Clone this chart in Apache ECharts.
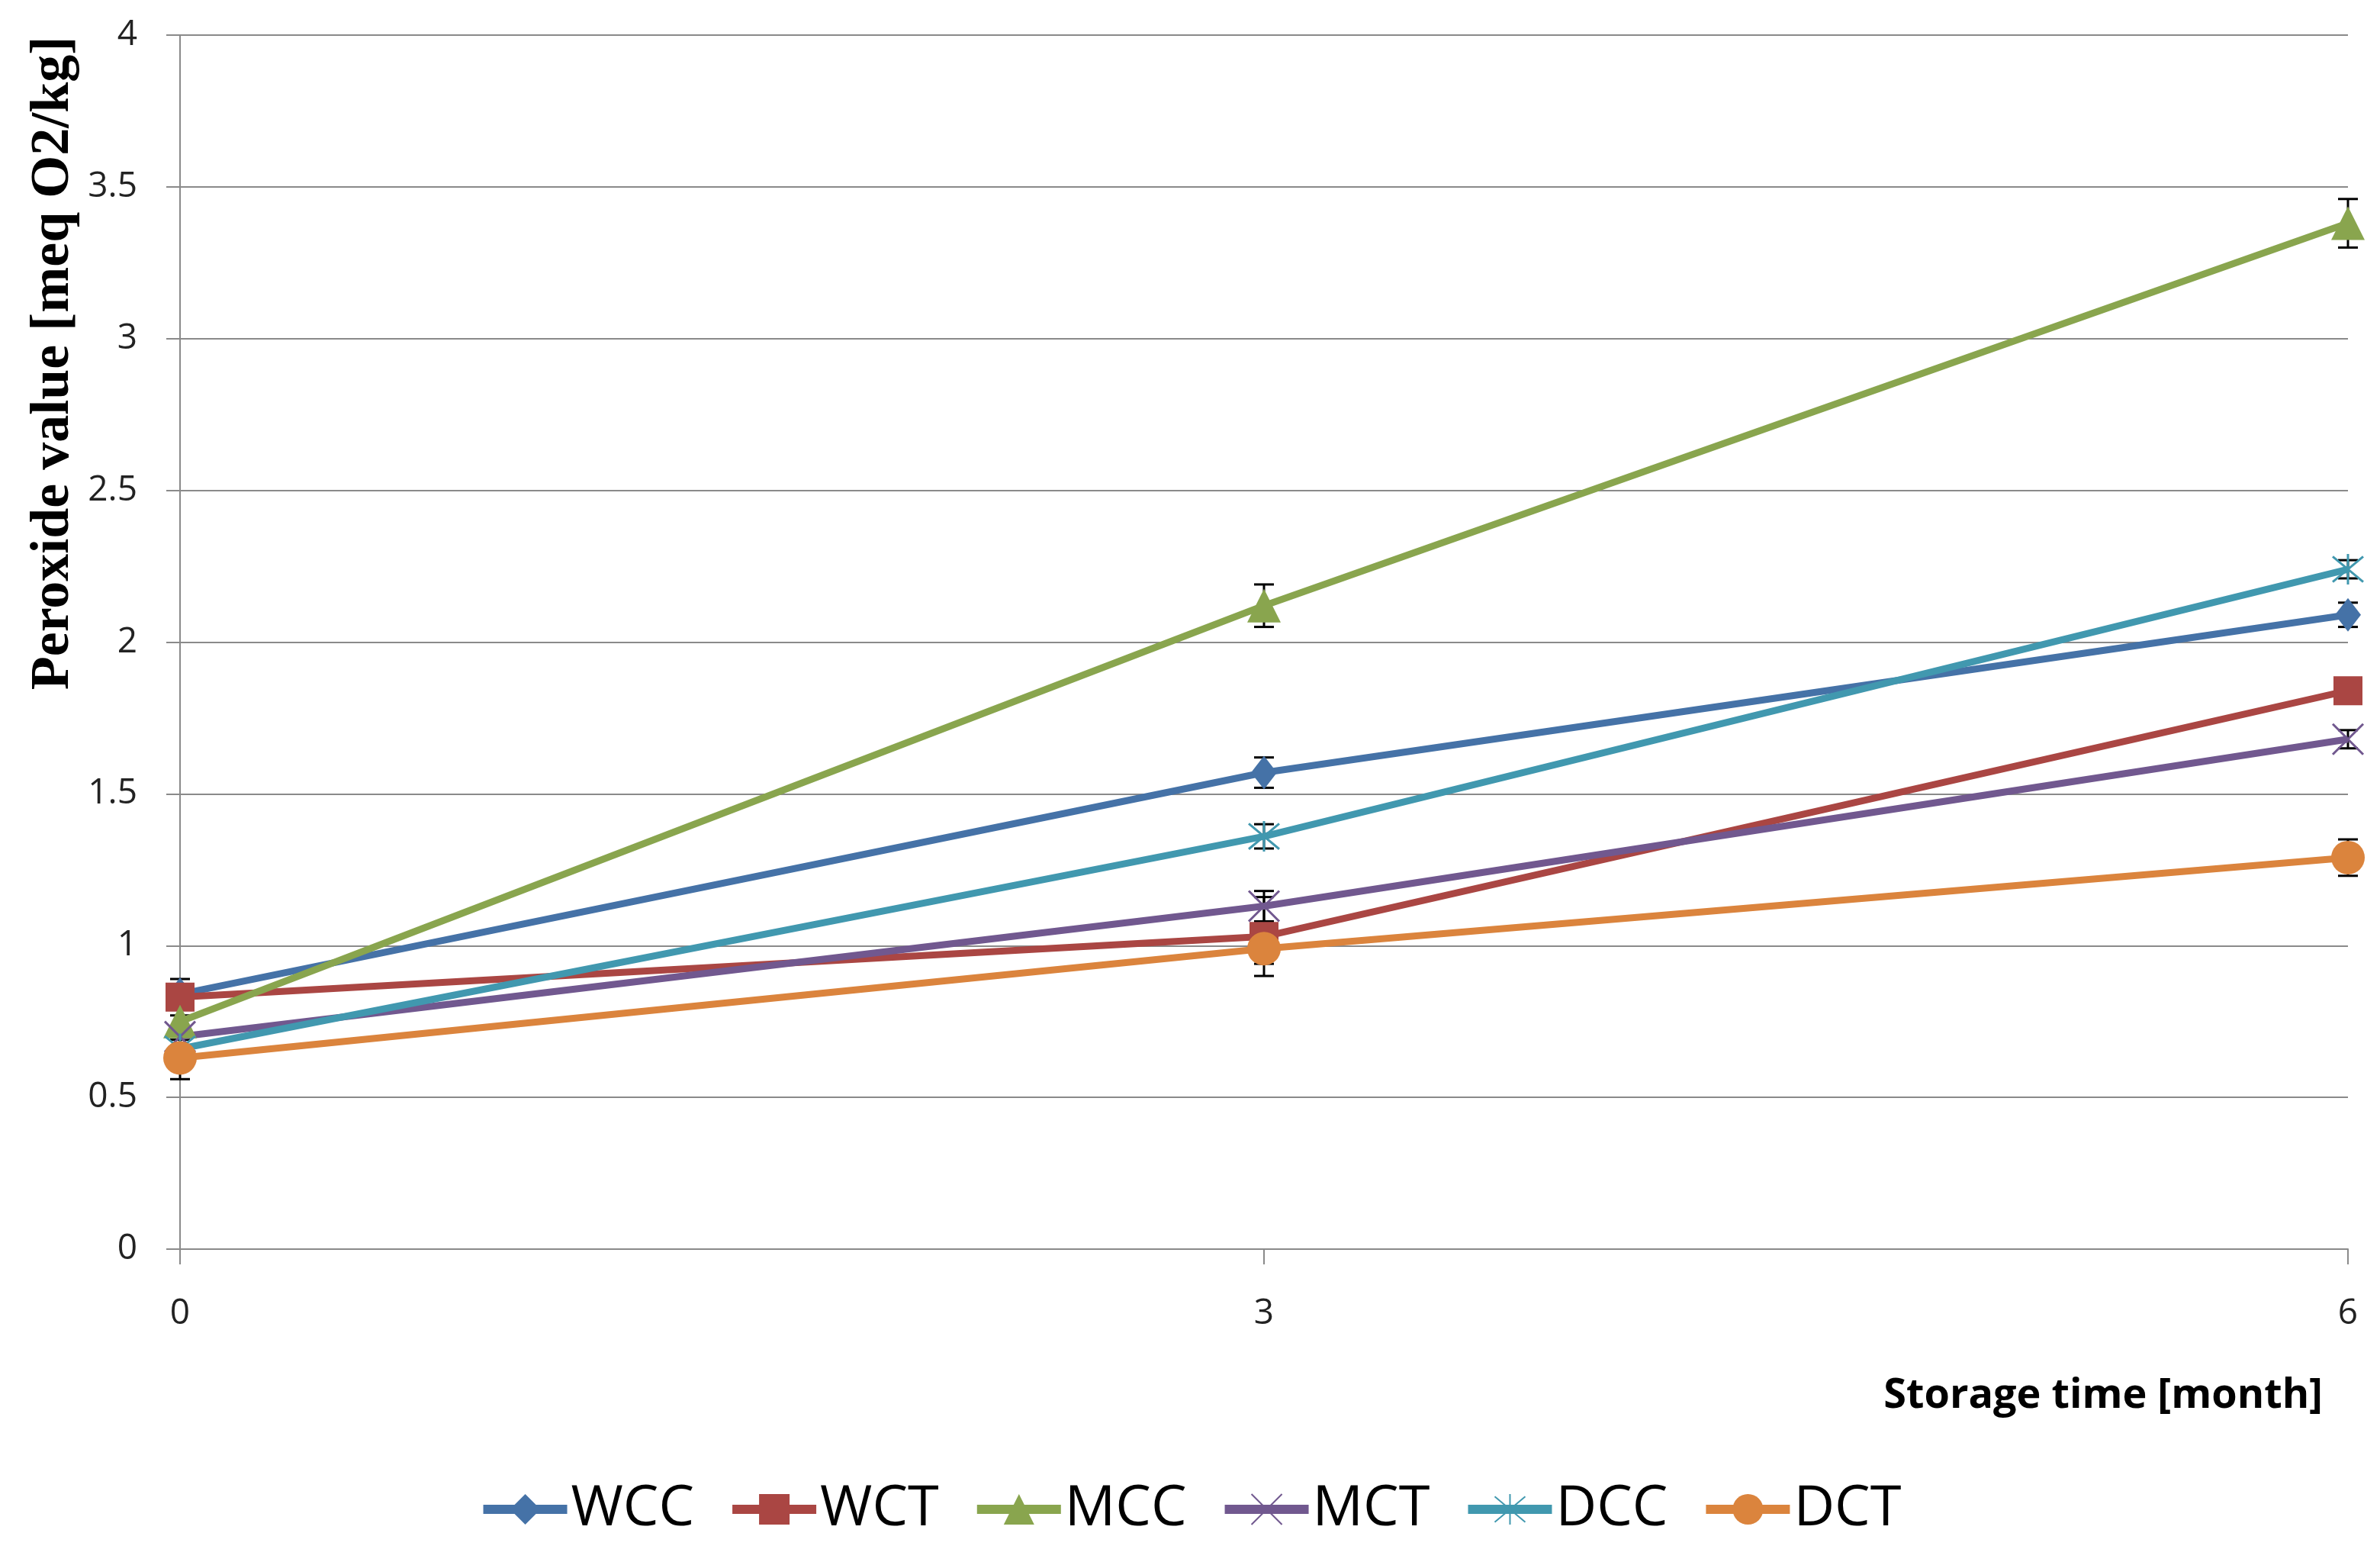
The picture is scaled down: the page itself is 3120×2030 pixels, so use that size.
<!DOCTYPE html>
<html>
<head>
<meta charset="utf-8">
<script src="https://cdn.jsdelivr.net/npm/echarts@6/dist/echarts.min.js"></script>
<style>
html,body{margin:0;padding:0;background:#fff;}
#chart{width:3120px;height:2030px;}
</style>
</head>
<body>
<div id="chart"></div>
<script>
// ---- data ----
var months = [0, 3, 6];
var seriesNames = ['WCC', 'WCT', 'MCC', 'MCT', 'DCC', 'DCT'];
var WCC = [0.84, 1.57, 2.09];
var WCT = [0.83, 1.03, 1.84];
var MCC = [0.75, 2.12, 3.38];
var MCT = [0.70, 1.13, 1.68];
var DCC = [0.66, 1.36, 2.24];
var DCT = [0.63, 0.99, 1.29];
var WCC_err = [0.03, 0.05, 0.04];
var WCT_err = [0.06, 0.13, 0.03];
var MCC_err = [0.04, 0.07, 0.08];
var MCT_err = [0.03, 0.05, 0.03];
var DCC_err = [0.03, 0.04, 0.03];
var DCT_err = [0.07, 0.05, 0.06];
var yTicks = [0, 0.5, 1, 1.5, 2, 2.5, 3, 3.5, 4];
var xTicks = [0, 3, 6];

var values = [WCC, WCT, MCC, MCT, DCC, DCT];
var errors = [WCC_err, WCT_err, MCC_err, MCT_err, DCC_err, DCT_err];
var colors = ['#4572A7', '#AA4643', '#89A54E', '#71588F', '#4198AF', '#DB843D'];
var symbols = ['diamond', 'rect', 'triangle',
  'path://M0,0L10,10M10,0L0,10',
  'path://M0,0L10,10M10,0L0,10M5,-1L5,11',
  'circle'];
var symbolSizes = [[34, 44], 38, 44, 40, 40, 44];

var chart = echarts.init(document.getElementById('chart'), null, {renderer: 'canvas'});

var series = [];
seriesNames.forEach(function (name, i) {
  var errData = months.map(function (m, k) {
    return [m, values[i][k] - errors[i][k], values[i][k] + errors[i][k]];
  });
  series.push({
    name: name + ' error',
    type: 'custom',
    z: 1,
    silent: true,
    data: errData,
    renderItem: function (params, api) {
      var x = api.value(0);
      var lo = api.coord([x, api.value(1)]);
      var hi = api.coord([x, api.value(2)]);
      var cw = 13;
      return {
        type: 'group',
        children: [
          {type: 'line', shape: {x1: lo[0], y1: lo[1], x2: hi[0], y2: hi[1]}, style: {stroke: '#000', lineWidth: 3}},
          {type: 'line', shape: {x1: lo[0] - cw, y1: lo[1], x2: lo[0] + cw, y2: lo[1]}, style: {stroke: '#000', lineWidth: 3}},
          {type: 'line', shape: {x1: hi[0] - cw, y1: hi[1], x2: hi[0] + cw, y2: hi[1]}, style: {stroke: '#000', lineWidth: 3}}
        ]
      };
    }
  });
});
seriesNames.forEach(function (name, i) {
  var isPath = symbols[i].indexOf('path://') === 0;
  series.push({
    name: name,
    type: 'line',
    z: 3,
    data: months.map(function (m, k) { return [m, values[i][k]]; }),
    symbol: symbols[i],
    symbolSize: symbolSizes[i],
    showAllSymbol: true,
    lineStyle: {color: colors[i], width: 9},
    itemStyle: isPath ? {color: colors[i], borderColor: colors[i], borderWidth: 3, opacity: 1}
                      : {color: colors[i], borderWidth: 0},
    emphasis: {disabled: true}
  });
});

var option = {
  animation: false,
  backgroundColor: '#ffffff',
  grid: {left: 236, right: 42, top: 46, bottom: 393, containLabel: false},
  xAxis: {
    type: 'value',
    min: 0, max: 6, interval: 3,
    axisLine: {show: true, lineStyle: {color: '#8A8A8A', width: 2}},
    axisTick: {show: true, length: 20, inside: false, lineStyle: {color: '#8A8A8A', width: 2}},
    splitLine: {show: false},
    axisLabel: {
      margin: 62, fontSize: 46, color: '#222', fontFamily: 'Open Sans',
      formatter: function (v) { return xTicks.indexOf(v) >= 0 ? String(v) : ''; }
    }
  },
  yAxis: {
    type: 'value',
    min: 0, max: 4, interval: 0.5,
    axisLine: {show: true, lineStyle: {color: '#8A8A8A', width: 2}},
    axisTick: {show: true, length: 18, lineStyle: {color: '#8A8A8A', width: 2}},
    splitLine: {show: true, lineStyle: {color: '#8A8A8A', width: 2}},
    axisLabel: {
      margin: 56, fontSize: 46, color: '#222', fontFamily: 'Open Sans',
      formatter: function (v) { return yTicks.indexOf(v) >= 0 ? String(v) : ''; }
    }
  },
  legend: {
    data: seriesNames,
    left: 'center',
    top: 1936,
    itemWidth: 110,
    itemHeight: 50,
    itemGap: 44,
    lineStyle: {width: 12},
    textStyle: {fontSize: 74, color: '#000', fontFamily: '"Liberation Sans Narrow", "Open Sans", sans-serif'},
    selectedMode: false
  },
  graphic: [
    {
      type: 'text',
      x: 70, y: 476,
      rotation: Math.PI / 2,
      style: {
        text: 'Peroxide value [meq O2/kg]',
        font: 'bold 72px "Liberation Serif", "DejaVu Serif", serif',
        fill: '#000',
        align: 'center',
        verticalAlign: 'middle'
      }
    },
    {
      type: 'text',
      x: 3045, y: 1830,
      style: {
        text: 'Storage time [month]',
        font: 'bold 54px "Open Sans", sans-serif',
        fill: '#000',
        align: 'right',
        verticalAlign: 'middle'
      }
    }
  ],
  series: series
};
chart.setOption(option);
</script>
</body>
</html>
